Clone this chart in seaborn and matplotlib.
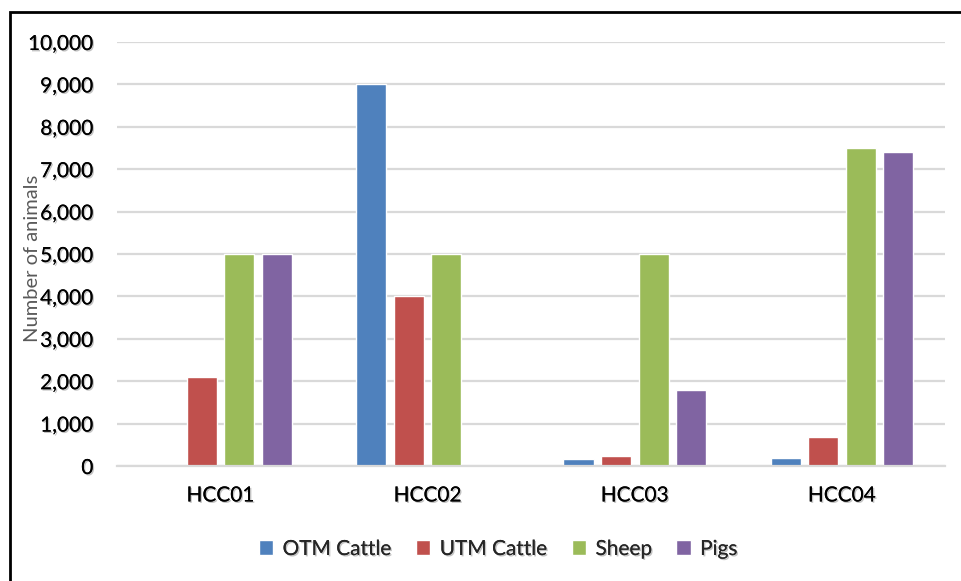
import matplotlib
matplotlib.use("Agg")
import matplotlib.pyplot as plt
import matplotlib.patheffects as pe
from matplotlib.patches import Rectangle
from matplotlib.ticker import FuncFormatter, MultipleLocator
import seaborn as sns
import pandas as pd

# Livestock counts per cluster
clusters = ["HCC01", "HCC02", "HCC03", "HCC04"]
species = ["OTM Cattle", "UTM Cattle", "Sheep", "Pigs"]
otm_cattle = [0, 9000, 160, 180]
utm_cattle = [2100, 4000, 240, 680]
sheep = [5000, 5000, 5000, 7500]
pigs = [5000, 0, 1800, 7400]
colors = ["#4F81BD", "#C0504D", "#9BBB59", "#8064A2"]

rows = []
for name, vals in zip(species, [otm_cattle, utm_cattle, sheep, pigs]):
    for c, v in zip(clusters, vals):
        rows.append({"cluster": c, "species": name, "count": v})
df = pd.DataFrame(rows)

sns.set_theme(style="white")
plt.rcParams["font.family"] = ["Lato", "DejaVu Sans"]

fig = plt.figure(figsize=(9.62, 5.81), dpi=100)
ax = fig.add_axes([117 / 962, 115 / 581, (945.5 - 117) / 962, (466 - 42) / 581])

sns.barplot(data=df, x="cluster", y="count", hue="species",
            order=clusters, hue_order=species, palette=colors,
            width=0.725, gap=0.2, saturation=1, ax=ax, legend=True)

ax.set_ylim(0, 10000)
ax.yaxis.set_major_locator(MultipleLocator(1000))
ax.yaxis.set_major_formatter(FuncFormatter(lambda v, p: f"{int(v):,}"))
ax.grid(axis="y", color="#d9d9d9", linewidth=1.6, zorder=0)
ax.set_axisbelow(True)
for s in ["top", "right", "left"]:
    ax.spines[s].set_visible(False)
ax.spines["bottom"].set_color("#d9d9d9")
ax.spines["bottom"].set_linewidth(1.6)

shadow = [pe.withSimplePatchShadow(offset=(1, -1), shadow_rgbFace="#888888", alpha=0.5), pe.Normal()]
ax.tick_params(axis="y", length=0, pad=17, labelsize=15, labelcolor="black")
ax.tick_params(axis="x", length=0, pad=14, labelsize=15, labelcolor="black")
for lab in ax.get_yticklabels() + ax.get_xticklabels():
    lab.set_path_effects(shadow)

ax.set_xlabel("")
ax.set_ylabel("Number of animals", fontsize=14.5, color="#595959")
ax.yaxis.set_label_coords(-76 / (945.5 - 117), 0.49)

handles, labels = ax.get_legend_handles_labels()
ax.get_legend().remove()
leg = fig.legend(handles, labels, loc="center", bbox_to_anchor=(498 / 962, 1 - 549 / 581),
                 ncol=4, frameon=False, fontsize=15, handlelength=0.7, handleheight=0.7,
                 handletextpad=0.45, columnspacing=1.15)
for t in leg.get_texts():
    t.set_path_effects(shadow)

# Outer frame line along the top and left edges
fig.patches.append(Rectangle((10 / 962, -0.2), 2.0, 1.2 - 12 / 581,
                             transform=fig.transFigure, fill=False,
                             edgecolor="black", linewidth=2))

fig.savefig("out.png", dpi=100)
